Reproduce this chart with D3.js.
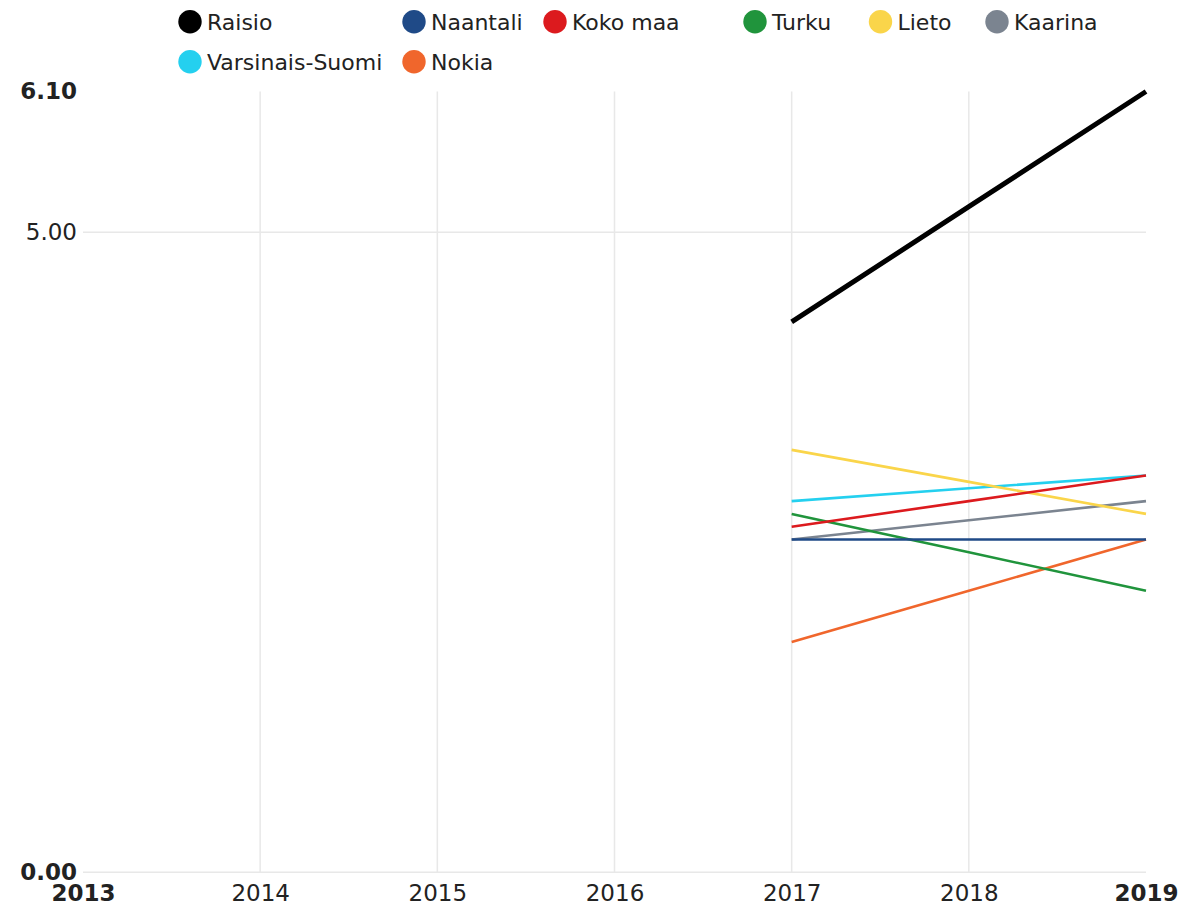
<!DOCTYPE html>
<html>
<head>
<meta charset="utf-8">
<script src="https://cdn.jsdelivr.net/npm/d3@7"></script>
<style>
  html, body { margin: 0; padding: 0; background: #fff; }
  svg { display: block; font-family: "DejaVu Sans", sans-serif; }
</style>
</head>
<body>
<svg id="chart" width="1178" height="910"></svg>
<script>
// ---- data ----
const axisYears = [2013, 2014, 2015, 2016, 2017, 2018, 2019];
const dataYears = [2017, 2018, 2019];
const seriesNames = ["Raisio", "Naantali", "Koko maa", "Turku", "Lieto", "Kaarina", "Varsinais-Suomi", "Nokia"];
const raisio = [4.3, 5.2, 6.1];
const naantali = [2.6, 2.6, 2.6];
const kokoMaa = [2.7, 2.9, 3.1];
const turku = [2.8, 2.5, 2.2];
const lieto = [3.3, 3.05, 2.8];
const kaarina = [2.6, 2.75, 2.9];
const varsinaisSuomi = [2.9, 3.0, 3.1];
const nokia = [1.8, 2.2, 2.6];
const yTickValues = [0, 5, 6.1];
const yTickLabels = ["0.00", "5.00", "6.10"];
const seriesColors = ["#000000", "#1f4a87", "#dc1a1e", "#20943c", "#fad54a", "#7b8490", "#24d0ef", "#f0662c"];

const seriesValues = [raisio, naantali, kokoMaa, turku, lieto, kaarina, varsinaisSuomi, nokia];
const series = seriesNames.map((n, i) => ({
  name: n, color: seriesColors[i],
  points: dataYears.map((yr, j) => ({ year: yr, value: seriesValues[i][j] }))
}));

// ---- layout ----
const svg = d3.select("#chart");
const plotLeft = 83, plotRight = 1146, plotTop = 91.5, plotBottom = 872.3;
const x = d3.scaleLinear().domain([2013, 2019]).range([plotLeft, plotRight]);
const y = d3.scaleLinear().domain([0, 6.1]).range([plotBottom, plotTop]);

// grid
const grid = svg.append("g");
grid.selectAll("line.v").data(axisYears.filter(d => d !== 2013 && d !== 2019)).join("line")
  .attr("class", "v")
  .attr("x1", d => x(d)).attr("x2", d => x(d))
  .attr("y1", y(6.1)).attr("y2", y(0))
  .attr("stroke", "#e8e8e8").attr("stroke-width", 1.5);
grid.selectAll("line.h").data([0, 5]).join("line")
  .attr("class", "h")
  .attr("x1", plotLeft).attr("x2", plotRight)
  .attr("y1", d => y(d)).attr("y2", d => y(d))
  .attr("stroke", "#e8e8e8").attr("stroke-width", 1.5);

// y axis labels
const yAxis = d3.axisLeft(y).tickValues(yTickValues)
  .tickFormat((d, i) => yTickLabels[i]).tickSize(0).tickPadding(6);
const gy = svg.append("g").attr("transform", `translate(${plotLeft},0)`).call(yAxis);
gy.select(".domain").remove();
gy.selectAll("text").attr("font-size", 23).attr("fill", "#222")
  .attr("font-family", "DejaVu Sans")
  .attr("font-weight", (d, i) => (i === 1 ? "normal" : "bold"));

// x axis labels
const xAxis = d3.axisBottom(x).tickValues(axisYears).tickFormat(d3.format("d")).tickSize(0).tickPadding(12);
const gx = svg.append("g").attr("transform", `translate(0,${plotBottom})`).call(xAxis);
gx.select(".domain").remove();
gx.selectAll("text").attr("font-size", 23).attr("fill", "#222")
  .attr("font-family", "DejaVu Sans")
  .attr("font-weight", d => (d === 2013 || d === 2019 ? "bold" : "normal"));

// lines
const line = d3.line().x(d => x(d.year)).y(d => y(d.value));
svg.append("g").selectAll("path").data(series.slice().reverse()).join("path")
  .attr("d", d => line(d.points))
  .attr("fill", "none")
  .attr("stroke", d => d.color)
  .attr("stroke-width", d => (d.name === "Raisio" ? 5 : 2.6));

// legend
const legendCols = [190, 414, 555, 755, 880.5, 997];
const perRow = 6;
const lg = svg.append("g").selectAll("g").data(series).join("g")
  .attr("transform", (d, i) => `translate(${legendCols[i % perRow]},${21.7 + 40 * Math.floor(i / perRow)})`);
lg.append("circle").attr("r", 11.7).attr("fill", d => d.color);
lg.append("text").attr("x", 17).attr("dy", "0.36em")
  .attr("font-size", 22).attr("fill", "#222").text(d => d.name);
</script>
</body>
</html>
